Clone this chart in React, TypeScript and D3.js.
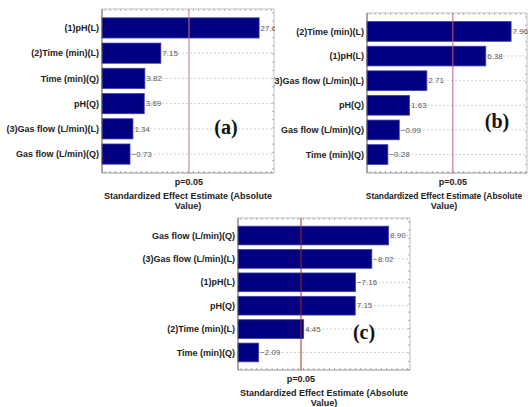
import React from "react";
import * as d3 from "d3";

// ---- data ----
const labelsA = ["(1)pH(L)", "(2)Time (min)(L)", "Time (min)(Q)", "pH(Q)", "(3)Gas flow (L/min)(L)", "Gas flow (L/min)(Q)"];
const valuesA = [27.6, 7.15, 3.82, 3.69, 1.34, -0.73];
const labelsB = ["(2)Time (min)(L)", "(1)pH(L)", "(3)Gas flow (L/min)(L)", "pH(Q)", "Gas flow (L/min)(Q)", "Time (min)(Q)"];
const valuesB = [7.96, 6.38, 2.71, 1.63, -0.99, -0.28];
const labelsC = ["Gas flow (L/min)(Q)", "(3)Gas flow (L/min)(L)", "(1)pH(L)", "pH(Q)", "(2)Time (min)(L)", "Time (min)(Q)"];
const valuesC = [8.9, -8.02, -7.16, 7.15, 4.45, -2.09];
const panelTags = ["(a)", "(b)", "(c)"];
const xDomains: [number, number][] = [[-5.1, 30.7], [-1.02, 8.95], [1.01, 10.02]];
const pCritical = [13.0, 4.33, 4.31];
const pLabel = "p=0.05";
const axisTitle1 = "Standardized Effect Estimate (Absolute";
const axisTitle2 = "Value)";

// ---- layout ----
type Frame = { x0: number; x1: number; y0: number; y1: number; clip: [number, number]; tag: [number, number]; pColor: string; titleX: number; titleSize: number };
const frames: Frame[] = [
  { x0: 102, x1: 274, y0: 9, y1: 173, clip: [0, 275], tag: [226, 134], pColor: "#c8788a", titleX: 188, titleSize: 9 },
  { x0: 367, x1: 527, y0: 13, y1: 173, clip: [274, 528], tag: [497, 128], pColor: "#c4607a", titleX: 444, titleSize: 8.4 },
  { x0: 238, x1: 410, y0: 218, y1: 370, clip: [0, 528], tag: [364, 339], pColor: "#a82828", titleX: 324, titleSize: 9 },
];

const FONT = "Liberation Sans, Arial, sans-serif";

function Panel({ idx, labels, values }: { idx: number; labels: string[]; values: number[] }) {
  const f = frames[idx];
  const x = d3.scaleLinear().domain(xDomains[idx]).range([f.x0, f.x1]);
  const y = d3.scaleBand<string>().domain(labels).range([f.y0, f.y1]).paddingInner(0.2).paddingOuter(0.35);
  const bw = y.bandwidth();
  const fmt = d3.format(".2f");
  const topTicks = d3.range(f.x0 + 3, f.x1, 5.2);
  const rightTicks = d3.range(f.y0 + 4, f.y1, 8.2);
  const px = x(pCritical[idx]);
  const clipId = `clip${idx}`;
  return (
    <g>
      <defs>
        <clipPath id={clipId}>
          <rect x={f.clip[0]} y={0} width={f.clip[1] - f.clip[0]} height={407} />
        </clipPath>
      </defs>
      <g clipPath={`url(#${clipId})`}>
        {labels.map((l) => (
          <line key={"g" + l} x1={f.x0} x2={f.x1} y1={y(l)! + bw / 2} y2={y(l)! + bw / 2} stroke="#c4c4c4" strokeWidth={0.8} strokeDasharray="2,2" />
        ))}
        <line x1={f.x0} x2={f.x1} y1={f.y0} y2={f.y0} stroke="#b0b0b0" strokeWidth={0.8} />
        <line x1={f.x1} x2={f.x1} y1={f.y0} y2={f.y1} stroke="#b0b0b0" strokeWidth={0.8} />
        <line x1={f.x0} x2={f.x1} y1={f.y1} y2={f.y1} stroke="#8a8a8a" strokeWidth={0.9} />
        {topTicks.map((t, i) => (
          <g key={"t" + i}>
            <line x1={t} x2={t} y1={f.y0} y2={f.y0 + 2} stroke="#999" strokeWidth={0.7} />
            <line x1={t} x2={t} y1={f.y1} y2={f.y1 - 2} stroke="#888" strokeWidth={0.7} />
          </g>
        ))}
        {rightTicks.map((t, i) => (
          <line key={"r" + i} x1={f.x1} x2={f.x1 - 2} y1={t} y2={t} stroke="#999" strokeWidth={0.7} />
        ))}
        {labels.map((l, i) => (
          <rect key={"b" + l} x={x(xDomains[idx][0])} y={y(l)!} width={x(Math.abs(values[i])) - x(xDomains[idx][0])} height={bw}
            fill="#000080" stroke="#3c3cb4" strokeWidth={0.8} />
        ))}
        <line x1={f.x0} x2={f.x0} y1={f.y0} y2={f.y1} stroke="#505050" strokeWidth={1} />
        <line x1={px} x2={px} y1={f.y0} y2={f.y1} stroke={f.pColor} strokeWidth={1} />
        {labels.map((l, i) => (
          <text key={"v" + l} x={x(Math.abs(values[i])) + 1.5} y={y(l)! + bw / 2} dy="0.35em" fontSize={8} fill="#5a5a5a" fontFamily={FONT}>
            {fmt(values[i])}
          </text>
        ))}
        {labels.map((l) => (
          <text key={"c" + l} x={f.x0 - 3} y={y(l)! + bw / 2} dy="0.35em" textAnchor="end" fontSize={9} fontWeight="bold" fill="#222" fontFamily={FONT}>
            {l}
          </text>
        ))}
      </g>
      <text x={px} y={f.y1 + 12} textAnchor="middle" fontSize={9} fontWeight="bold" fill="#222" fontFamily={FONT}>{pLabel}</text>
      <text x={f.titleX} y={f.y1 + 26} textAnchor="middle" fontSize={f.titleSize} fontWeight="bold" fill="#222" fontFamily={FONT}>{axisTitle1}</text>
      <text x={f.titleX} y={f.y1 + 36} textAnchor="middle" fontSize={9} fontWeight="bold" fill="#222" fontFamily={FONT}>{axisTitle2}</text>
      <text x={f.tag[0]} y={f.tag[1]} textAnchor="middle" fontSize={20} fontWeight="bold" fill="#111" fontFamily="Liberation Serif, Times New Roman, serif">{panelTags[idx]}</text>
    </g>
  );
}

export default function App() {
  return (
    <div style={{ position: "absolute", left: 0, top: 0 }}>
      <svg width={528} height={407} style={{ display: "block", background: "#fff" }}>
        <rect width={528} height={407} fill="#fff" />
        <Panel idx={0} labels={labelsA} values={valuesA} />
        <Panel idx={1} labels={labelsB} values={valuesB} />
        <Panel idx={2} labels={labelsC} values={valuesC} />
      </svg>
    </div>
  );
}
